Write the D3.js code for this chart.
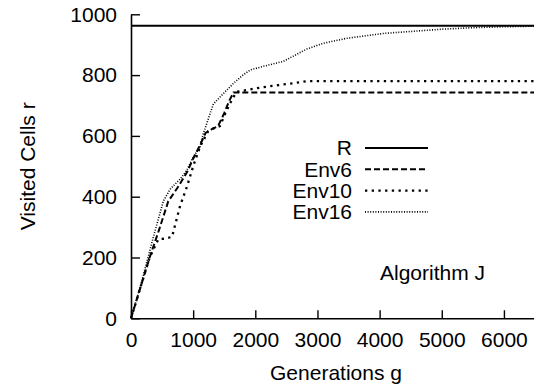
<!doctype html>
<html>
<head>
<title>Visited Cells</title>
<script src="https://d3js.org/d3.v7.min.js"></script>
<style>
  body { margin: 0; background: #fff; }
  text { font-family: "Liberation Sans", Arial, sans-serif; fill: #000; }
</style>
</head>
<body>
<div id="chart"></div>
<script>
// series data (generations g, visited cells r)
var rValue = 962;
var env6 = [[0,0],[150,100],[300,200],[450,290],[600,385],[750,430],[900,480],[1000,525],[1100,565],[1200,610],[1300,622],[1400,632],[1500,675],[1580,715],[1650,743],[6500,743]];
var env10 = [[0,0],[150,100],[300,200],[440,260],[550,262],[660,268],[790,370],[900,433],[1000,500],[1110,564],[1240,615],[1330,625],[1430,632],[1530,680],[1620,718],[1700,745],[2000,756],[2290,765],[2600,773],[2830,780],[6500,780]];
var env16 = [[0,0],[150,105],[300,220],[360,268],[520,385],[630,425],[800,460],[900,488],[1000,530],[1110,564],[1160,605],[1325,705],[1490,740],[1650,773],[1800,800],[1920,817],[2150,830],[2450,845],[2830,886],[3100,905],[3470,921],[3800,930],[4060,937],[4600,945],[5000,951],[5500,956],[6000,959],[6500,961]];
var xTicks = [0, 1000, 2000, 3000, 4000, 5000, 6000];
var yTicks = [0, 200, 400, 600, 800, 1000];
var legendNames = ["R", "Env6", "Env10", "Env16"];

var margin = {top: 14.3, left: 131},
    width = 404,
    height = 304,
    fs = "21px";

var svg = d3.select("#chart").append("svg")
    .attr("width", 534)
    .attr("height", 387)
  .append("g")
    .attr("transform", "translate(" + margin.left + "," + margin.top + ")");

var x = d3.scaleLinear().domain([0, 6500]).range([0, width]);
var y = d3.scaleLinear().domain([0, 1000]).range([height, 0]);

var styles = {
  "R":     {w: 2,   dash: null},
  "Env6":  {w: 2,   dash: "6,3"},
  "Env10": {w: 2.3, dash: "2.3,4.4"},
  "Env16": {w: 1.6, dash: "1,1.6"}
};

// axes, ticks pointing inward
var xAxis = svg.append("g")
    .attr("transform", "translate(0," + height + ")")
    .call(d3.axisBottom(x).tickValues(xTicks).tickSizeInner(-8).tickSizeOuter(0).tickPadding(14).tickFormat(d3.format("d")));
var yAxis = svg.append("g")
    .call(d3.axisLeft(y).tickValues(yTicks).tickSizeInner(-9).tickSizeOuter(0).tickPadding(14).tickFormat(d3.format("d")));
[xAxis, yAxis].forEach(function (a) {
  a.select(".domain").attr("stroke-width", 1.6);
  a.selectAll(".tick line").attr("stroke-width", 1.4);
  a.selectAll("text").style("font-size", fs).attr("font-family", null);
});

// lines
var line = d3.line()
    .x(function (d) { return x(d[0]); })
    .y(function (d) { return y(d[1]); });

var series = [
  {name: "R", data: [[0, rValue], [6500, rValue]]},
  {name: "Env6", data: env6},
  {name: "Env10", data: env10},
  {name: "Env16", data: env16}
];

series.forEach(function (s) {
  svg.append("path")
      .datum(s.data)
      .attr("d", line)
      .attr("fill", "none")
      .attr("stroke", "#000")
      .attr("stroke-width", styles[s.name].w)
      .attr("stroke-dasharray", styles[s.name].dash);
});

// legend
var leg = svg.append("g").attr("transform", "translate(221,133.7)");
legendNames.forEach(function (n, i) {
  var row = leg.append("g").attr("transform", "translate(0," + (i * 21.3) + ")");
  row.append("text")
      .attr("x", 0)
      .attr("dy", "0.35em")
      .attr("text-anchor", "end")
      .style("font-size", fs)
      .text(n);
  row.append("line")
      .attr("x1", 13).attr("x2", 76)
      .attr("stroke", "#000")
      .attr("stroke-width", styles[n].w)
      .attr("stroke-dasharray", styles[n].dash);
});

svg.append("text")
    .attr("x", 249).attr("y", 265.7)
    .style("font-size", fs)
    .text("Algorithm J");

// axis titles
svg.append("text")
    .attr("x", width / 2 + 3).attr("y", 365.7)
    .attr("text-anchor", "middle")
    .style("font-size", fs)
    .text("Generations g");
svg.append("text")
    .attr("transform", "translate(-96," + (height / 2) + ") rotate(-90)")
    .attr("text-anchor", "middle")
    .style("font-size", fs)
    .text("Visited Cells r");
</script>
</body>
</html>
